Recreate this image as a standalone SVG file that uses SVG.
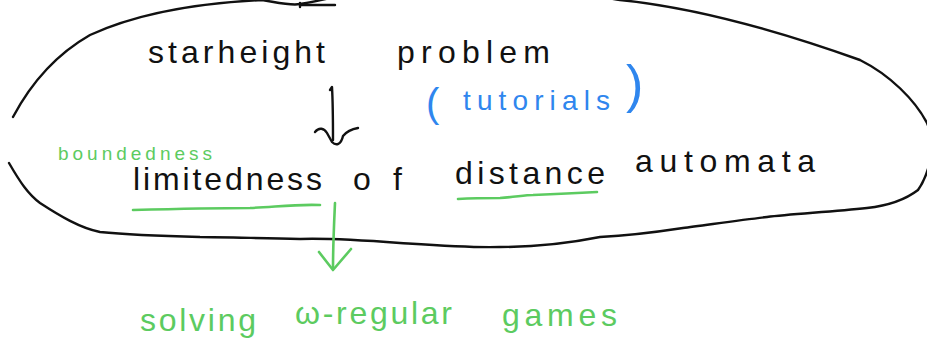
<svg xmlns="http://www.w3.org/2000/svg" width="927" height="343" viewBox="0 0 927 343">
  <style>
    .ink{fill:none;stroke:#111;stroke-width:2.4;stroke-linecap:round;stroke-linejoin:round}
    .gr{fill:none;stroke:#5ccb60;stroke-width:2.6;stroke-linecap:round;stroke-linejoin:round}
    text{font-family:"Liberation Sans",Arial,sans-serif;font-weight:normal}
    .tk{fill:#111;font-size:32px}
    .tg{fill:#5ccb60}
    .tb{fill:#2f86ee}
  </style>
  <rect width="927" height="343" fill="#fff"/>

  <!-- enclosing loop around the first two statements -->
  <g id="scope">
    <path class="ink" d="M13,117 C30,85 55,55 90,35 C140,12 200,3 262,0 C280,3 292,6 300,4 C325,0 342,-4 360,-12 L560,-12 C588,-6 605,-2 620,0 C700,8 790,35 860,60 C890,75 915,100 927,123 L934,140"/>
    <path class="ink" d="M932,150 C930,165 925,180 918,190 C905,200 885,206 867,208 C830,212 790,214 767,217 C740,220 700,226 683,228 C650,233 620,236 600,237 C570,243 530,247 500,247 C470,248 430,245 400,243 C360,240 330,238 300,239 C250,238 220,237 200,237 C160,236 130,235 100,232 C80,228 60,216 40,203 C28,194 20,182 9,163"/>
    <path class="ink" d="M300,3 L300,7 M302,5 L335,5"/>
  </g>

  <g id="starheight">
    <text class="tk" x="148" y="63" textLength="177" lengthAdjust="spacing">starheight</text>
    <text class="tk" x="397" y="63" textLength="153" lengthAdjust="spacing">problem</text>
  </g>

  <g id="tutorials">
    <text class="tb" x="426" y="117" font-size="40">(</text>
    <text class="tb" x="463" y="110" font-size="28" textLength="147" lengthAdjust="spacing">tutorials</text>
    <text class="tb" x="626" y="102" font-size="52">)</text>
  </g>

  <g id="limitedness">
    <text class="tg" x="58" y="160" font-size="19" textLength="154" lengthAdjust="spacing">boundedness</text>
    <text class="tk" x="133" y="190" textLength="189" lengthAdjust="spacing">limitedness</text>
    <text class="tk" x="353" y="190" textLength="49" lengthAdjust="spacing">of</text>
    <text class="tk" x="455" y="184" textLength="150" lengthAdjust="spacing">distance</text>
    <text class="tk" x="635" y="172" textLength="180" lengthAdjust="spacing">automata</text>
    <path class="gr" d="M133,210 C170,209 220,208 250,208 C275,207 295,204 320,205"/>
    <path class="gr" d="M458,199 C475,198 490,198 500,198 C515,197 525,195 533,195 C560,194 580,193 597,192"/>
  </g>

  <g id="solving">
    <text class="tg" x="140" y="331" font-size="32" textLength="116" lengthAdjust="spacing">solving</text>
    <text class="tg" x="295" y="324" font-size="32" textLength="157" lengthAdjust="spacing">ω-regular</text>
    <text class="tg" x="502" y="326" font-size="32" textLength="115" lengthAdjust="spacing">games</text>
  </g>

  <!-- arrows between the statements -->
  <g id="connectors">
    <path class="ink" d="M330,90 L332,87 C333,105 333,120 333,140"/>
    <path class="ink" d="M315,132 C319,127 324,128 327,133 L332,142 C336,146 341,145 343,136 C347,131 352,129 358,128"/>
    <path class="gr" d="M335,203 C334,225 333,245 333,268"/>
    <path class="gr" d="M319,252 L333,270 L351,249"/>
  </g>
</svg>
